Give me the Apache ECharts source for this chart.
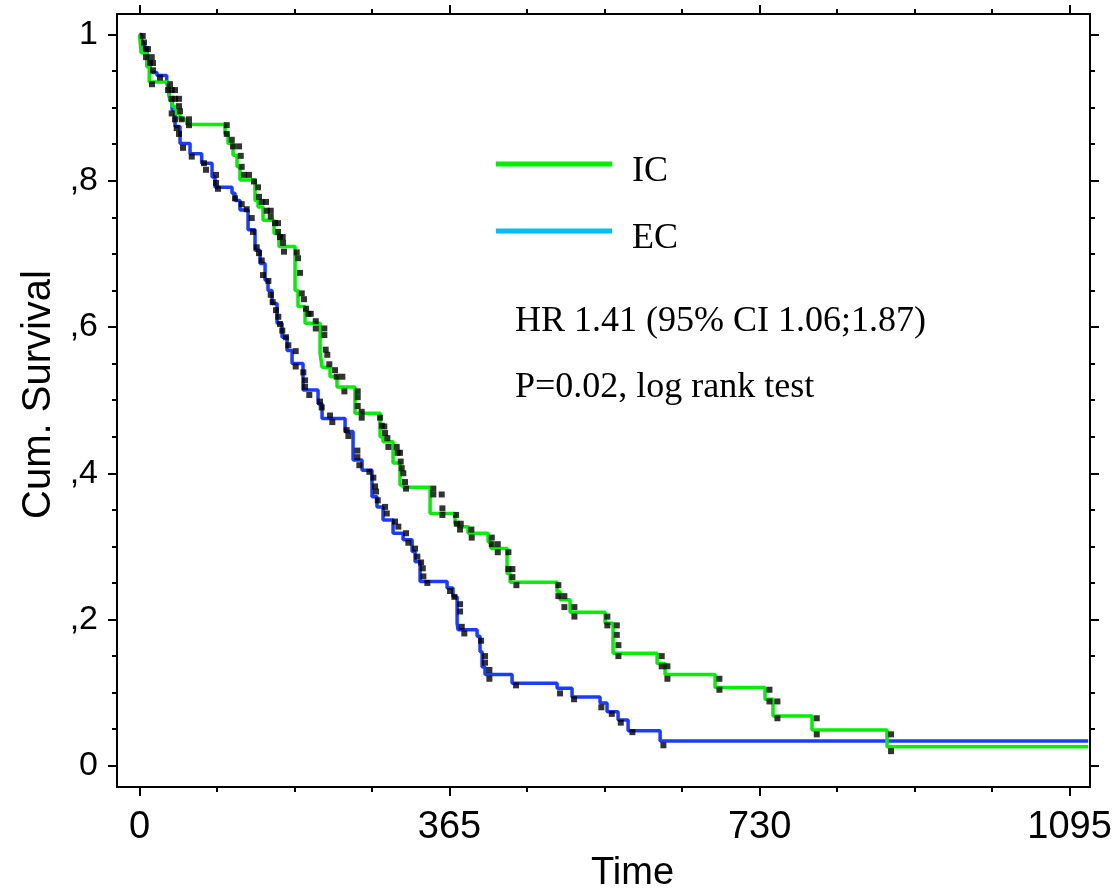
<!DOCTYPE html>
<html>
<head>
<meta charset="utf-8">
<script src="https://cdn.jsdelivr.net/npm/echarts@6/dist/echarts.min.js"></script>
<style>
html,body{margin:0;padding:0;background:#fff;}
#chart{width:1118px;height:893px;}
</style>
</head>
<body>
<div id="chart"></div>
<script>
// ---- Data (time in days, cumulative survival) ----
const icSurvival = [[0,1],[1.8,0.975],[8.5,0.956],[11.5,0.935],[33.9,0.924],[35.9,0.91],[38.3,0.902],[41.8,0.892],[47.7,0.884],[55.6,0.877],[100.7,0.864],[104.2,0.851],[110.1,0.835],[114.8,0.819],[118.3,0.801],[136.0,0.773],[139.5,0.764],[145.4,0.746],[158.4,0.728],[164.2,0.71],[183.1,0.65],[186.6,0.628],[194.9,0.605],[212.6,0.564],[214.9,0.545],[224.3,0.532],[232.5,0.518],[253.7,0.482],[283.2,0.45],[286.7,0.443],[298.5,0.414],[306.7,0.384],[310.3,0.381],[342.1,0.345],[371.5,0.331],[375.0,0.327],[386.8,0.318],[410.4,0.306],[413.9,0.297],[432.7,0.263],[436.3,0.251],[491.6,0.238],[495.2,0.227],[506.9,0.21],[548.1,0.195],[557.5,0.154],[609.3,0.14],[618.7,0.125],[677.6,0.107],[736.4,0.091],[745.8,0.068],[791.7,0.049],[880.0,0.026],[1116.8,0.026]];

const ecSurvival = [[0,1],[2.4,0.989],[5.3,0.978],[8.8,0.962],[12.4,0.948],[20.6,0.944],[32.0,0.935],[33.9,0.924],[35.9,0.91],[38.3,0.897],[41.8,0.874],[47.7,0.851],[59.5,0.837],[73.2,0.824],[85.4,0.805],[88.9,0.791],[108.9,0.783],[112.4,0.773],[118.3,0.76],[127.8,0.733],[136.0,0.705],[141.9,0.687],[147.8,0.664],[151.3,0.65],[156.0,0.632],[161.9,0.605],[167.8,0.586],[173.7,0.568],[179.6,0.55],[192.5,0.514],[210.2,0.495],[214.9,0.475],[242.0,0.457],[251.4,0.418],[262.0,0.404],[273.7,0.368],[279.6,0.354],[286.7,0.336],[298.5,0.318],[310.3,0.309],[320.9,0.293],[324.4,0.279],[330.3,0.252],[362.1,0.243],[369.1,0.231],[373.9,0.195],[375.0,0.186],[397.4,0.177],[400.9,0.156],[403.3,0.135],[406.8,0.125],[438.6,0.113],[491.6,0.106],[509.2,0.094],[542.2,0.086],[550.4,0.074],[563.4,0.0625],[575.2,0.048],[612.9,0.034],[1116.8,0.034]];

const icCensored = [[3.8,0.998],[10.0,0.980],[15.9,0.951],[24.1,0.941],[14.7,0.932],[35.9,0.932],[37.9,0.924],[41.8,0.924],[46.5,0.912],[46.5,0.902],[49.7,0.884],[58.3,0.884],[58.3,0.876],[102.7,0.876],[102.7,0.864],[108.6,0.856],[110.1,0.847],[117.2,0.847],[119.2,0.834],[120.3,0.819],[123.0,0.808],[128.9,0.808],[134.8,0.799],[139.5,0.791],[140.7,0.778],[143.9,0.771],[148.9,0.771],[149.8,0.759],[154.5,0.759],[154.5,0.751],[159.5,0.742],[163.1,0.742],[163.1,0.730],[165.4,0.723],[168.6,0.723],[169.0,0.715],[170.1,0.703],[185.1,0.702],[186.6,0.694],[189.0,0.674],[191.0,0.646],[193.7,0.638],[196.0,0.625],[198.8,0.618],[201.6,0.618],[207.5,0.608],[207.5,0.598],[217.6,0.598],[217.6,0.589],[219.2,0.569],[221.1,0.562],[223.5,0.549],[230.2,0.541],[232.2,0.532],[238.8,0.532],[241.2,0.512],[256.9,0.512],[256.9,0.504],[256.9,0.492],[261.6,0.484],[261.6,0.476],[283.2,0.476],[285.2,0.465],[288.2,0.464],[289.1,0.455],[291.8,0.448],[293.0,0.436],[302.8,0.436],[304.0,0.428],[306.7,0.428],[307.5,0.416],[308.7,0.407],[310.6,0.400],[312.6,0.388],[313.8,0.379],[345.9,0.379],[345.9,0.371],[355.8,0.371],[356.6,0.352],[356.6,0.343],[372.7,0.343],[373.5,0.331],[378.2,0.331],[377.4,0.323],[390.7,0.323],[391.1,0.312],[414.7,0.312],[414.7,0.303],[421.8,0.303],[421.8,0.292],[434.3,0.292],[434.3,0.269],[439.0,0.269],[439.0,0.258],[443.7,0.247],[493.1,0.247],[493.1,0.232],[500.2,0.232],[500.2,0.217],[512.0,0.217],[512.0,0.204],[550.8,0.204],[550.8,0.192],[561.9,0.192],[561.9,0.179],[563.8,0.165],[563.8,0.150],[614.8,0.150],[614.8,0.136],[621.5,0.136],[621.5,0.119],[682.7,0.119],[682.7,0.104],[741.6,0.104],[741.6,0.088],[751.0,0.088],[751.0,0.065],[797.3,0.065],[797.3,0.043],[884.8,0.043],[884.8,0.020]];

const ecCensored = [[5.3,0.989],[7.7,0.980],[7.7,0.969],[14.4,0.969],[12.4,0.961],[15.9,0.961],[33.6,0.924],[37.9,0.912],[41.8,0.912],[47.7,0.895],[37.9,0.892],[41.8,0.884],[43.8,0.872],[46.5,0.864],[51.2,0.845],[61.5,0.833],[75.9,0.824],[78.3,0.815],[90.1,0.808],[90.1,0.797],[92.4,0.789],[112.4,0.776],[120.3,0.768],[126.2,0.761],[132.1,0.749],[133.6,0.730],[138.0,0.709],[140.7,0.701],[143.9,0.691],[145.4,0.671],[151.7,0.663],[154.5,0.644],[156.8,0.634],[160.7,0.623],[163.4,0.614],[165.4,0.604],[168.1,0.595],[172.5,0.586],[175.2,0.575],[183.9,0.567],[183.9,0.546],[192.9,0.538],[194.9,0.527],[194.9,0.518],[199.9,0.507],[212.5,0.498],[214.5,0.490],[224.3,0.479],[227.0,0.470],[243.9,0.459],[245.9,0.451],[256.5,0.431],[256.5,0.422],[258.8,0.411],[270.6,0.402],[275.3,0.394],[277.3,0.382],[278.5,0.375],[280.5,0.363],[289.1,0.354],[291.1,0.345],[300.8,0.334],[304.7,0.327],[313.8,0.318],[316.5,0.305],[324.4,0.297],[327.1,0.286],[331.5,0.278],[333.5,0.270],[334.2,0.259],[338.9,0.250],[365.6,0.239],[370.7,0.231],[377.4,0.221],[377.4,0.211],[379.4,0.190],[382.4,0.181],[402.1,0.171],[406.8,0.150],[406.8,0.141],[411.9,0.131],[411.9,0.119],[443.3,0.110],[495.1,0.099],[511.6,0.091],[543.7,0.080],[556.0,0.071],[566.6,0.059],[580.3,0.046],[616.8,0.028]];

const xMajorTicks = [0, 365, 730, 1095];
const xMinorTicks = [91.25, 182.5, 273.75, 456.25, 547.5, 638.75, 821.25, 912.5, 1003.75];
const yMajorTicks = [0, 0.2, 0.4, 0.6, 0.8, 1];
const yTickLabels = ['0', ',2', ',4', ',6', ',8', '1'];
const yMinorTicks = [0.05, 0.1, 0.15, 0.25, 0.3, 0.35, 0.45, 0.5, 0.55, 0.65, 0.7, 0.75, 0.85, 0.9, 0.95];
const legendNames = ['IC', 'EC'];
const annotations = ['HR 1.41 (95% CI 1.06;1.87)', 'P=0.02, log rank test'];

// ---- Styling ----
const SANS = '"Liberation Sans", Arial, sans-serif';
const SERIF = '"Liberation Serif", "Times New Roman", serif';
const GREEN = '#00f000';
const BLUE = '#1a3cff';
const CYAN = '#00bff3';
const X_MIN = -26.5, X_MAX = 1119;
const Y_MIN = -0.029, Y_MAX = 1.028;

function xAx(pos, ticks, len, withLine, withLabel, extra) {
  return Object.assign({
    type: 'value', min: X_MIN, max: X_MAX, position: pos,
    axisLine: {show: withLine, onZero: false, lineStyle: {color: '#000', width: 2}},
    axisTick: {show: true, inside: false, length: len, customValues: ticks, lineStyle: {color: '#000', width: 2}},
    axisLabel: withLabel ? {show: true, customValues: ticks, margin: 22, fontSize: 38, fontFamily: SANS, color: '#000',
      formatter: function (v) { return String(Math.round(v)); }} : {show: false},
    splitLine: {show: false}
  }, extra || {});
}
function yAx(pos, ticks, len, withLine, withLabel, extra) {
  return Object.assign({
    type: 'value', min: Y_MIN, max: Y_MAX, position: pos,
    axisLine: {show: withLine, onZero: false, lineStyle: {color: '#000', width: 2}},
    axisTick: {show: true, inside: false, length: len, customValues: ticks, lineStyle: {color: '#000', width: 2}},
    axisLabel: withLabel ? {show: true, customValues: ticks, margin: 19, fontSize: 34, fontFamily: SANS, color: '#000',
      formatter: function (v) { return yTickLabels[Math.round(v * 5)]; }} : {show: false},
    splitLine: {show: false}
  }, extra || {});
}

const chart = echarts.init(document.getElementById('chart'), null, {renderer: 'canvas'});
const option = {
  animation: false,
  backgroundColor: '#fff',
  grid: {left: 117, right: 28, top: 14, bottom: 106, containLabel: false, outerBoundsMode: 'none'},
  xAxis: [
    xAx('bottom', xMajorTicks, 9, true, true, {
      name: 'Time', nameLocation: 'middle', nameGap: 68,
      nameTextStyle: {fontSize: 38, fontFamily: SANS, color: '#000', padding: [0, 0, 0, 58]}
    }),
    xAx('bottom', xMinorTicks, 5, false, false),
    xAx('top', xMajorTicks, 9, true, false),
    xAx('top', xMinorTicks, 5, false, false)
  ],
  yAxis: [
    yAx('left', yMajorTicks, 9, true, true, {
      name: 'Cum. Survival', nameLocation: 'middle', nameGap: 57, nameRotate: 90,
      nameTextStyle: {fontSize: 40, fontFamily: SANS, color: '#000', padding: [0, 0, 0, 12]}
    }),
    yAx('left', yMinorTicks, 5, false, false),
    yAx('right', yMajorTicks, 9, true, false),
    yAx('right', yMinorTicks, 5, false, false)
  ],
  series: [
    {name: legendNames[1], type: 'line', step: 'end', data: ecSurvival, showSymbol: false, symbol: 'none',
      lineStyle: {color: BLUE, width: 3.5}, itemStyle: {color: BLUE}, z: 2},
    {name: legendNames[0], type: 'line', step: 'end', data: icSurvival, showSymbol: false, symbol: 'none',
      lineStyle: {color: GREEN, width: 3.5}, itemStyle: {color: GREEN}, z: 3},
    {name: 'EC censored', type: 'scatter', data: ecCensored, symbol: 'rect', symbolSize: 6,
      itemStyle: {color: '#000'}, z: 4},
    {name: 'IC censored', type: 'scatter', data: icCensored, symbol: 'rect', symbolSize: 6,
      itemStyle: {color: '#000'}, z: 4}
  ],
  graphic: [
    {type: 'line', shape: {x1: 496, y1: 164, x2: 612, y2: 164}, style: {stroke: GREEN, lineWidth: 5}},
    {type: 'line', shape: {x1: 496, y1: 231, x2: 612, y2: 231}, style: {stroke: CYAN, lineWidth: 5}},
    {type: 'text', x: 632, y: 172, style: {text: legendNames[0], font: '36px ' + SERIF, fill: '#000', verticalAlign: 'middle', textVerticalAlign: 'middle'}},
    {type: 'text', x: 632, y: 239, style: {text: legendNames[1], font: '36px ' + SERIF, fill: '#000', verticalAlign: 'middle', textVerticalAlign: 'middle'}},
    {type: 'text', x: 515, y: 322, style: {text: annotations[0], font: '36px ' + SERIF, fill: '#000', verticalAlign: 'middle', textVerticalAlign: 'middle'}},
    {type: 'text', x: 515, y: 388, style: {text: annotations[1], font: '36px ' + SERIF, fill: '#000', verticalAlign: 'middle', textVerticalAlign: 'middle'}}
  ]
};
chart.setOption(option);
</script>
</body>
</html>
